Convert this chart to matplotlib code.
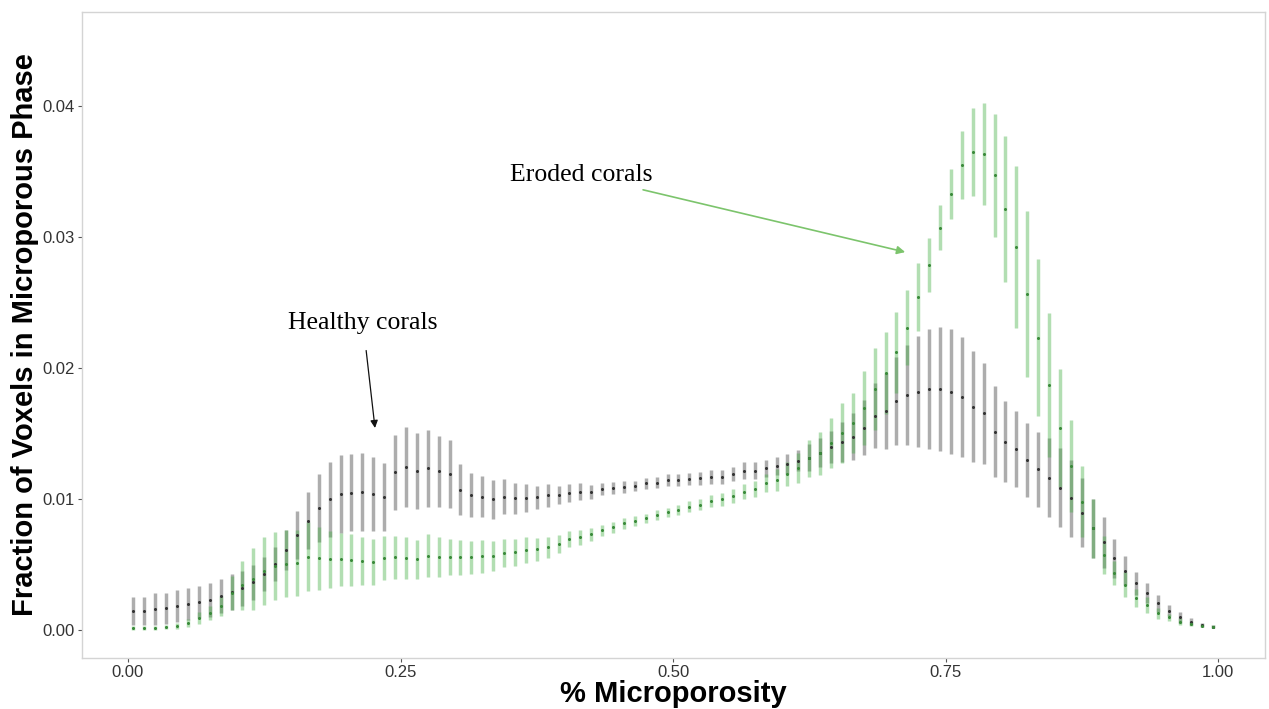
import matplotlib
matplotlib.use("Agg")
import matplotlib.pyplot as plt
import numpy as np

# x bin centres (fraction microporosity)
bins = [round(0.005 + 0.01 * i, 3) for i in range(100)]

# Healthy corals: mean and error (fraction of voxels)
healthy_mean = [
    0.00145, 0.00145, 0.00160, 0.00166, 0.00183, 0.00196, 0.00211, 0.00226, 0.00260, 0.00290,
    0.00318, 0.00364, 0.00425, 0.00501, 0.00611, 0.00725, 0.00834, 0.00931, 0.00997, 0.01038,
    0.01048, 0.01053, 0.01038, 0.01018, 0.01204, 0.01242, 0.01214, 0.01234, 0.01210, 0.01190,
    0.01069, 0.01031, 0.01018, 0.00997, 0.01018, 0.01005, 0.01005, 0.01013, 0.01028, 0.01031,
    0.01043, 0.01056, 0.01051, 0.01074, 0.01081, 0.01094, 0.01102, 0.01120, 0.01125, 0.01145,
    0.01145, 0.01153, 0.01158, 0.01170, 0.01170, 0.01191, 0.01216, 0.01216, 0.01234, 0.01252,
    0.01267, 0.01293, 0.01316, 0.01354, 0.01399, 0.01438, 0.01476, 0.01544, 0.01636, 0.01672,
    0.01748, 0.01794, 0.01819, 0.01840, 0.01840, 0.01819, 0.01776, 0.01705, 0.01654, 0.01514,
    0.01438, 0.01379, 0.01298, 0.01226, 0.01163, 0.01087, 0.01005, 0.00896, 0.00776, 0.00669,
    0.00547, 0.00453, 0.00356, 0.00280, 0.00204, 0.00148, 0.00097, 0.00064, 0.00038, 0.00025,
]
healthy_err = [
    0.00110, 0.00110, 0.00125, 0.00120, 0.00125, 0.00122, 0.00123, 0.00130, 0.00130, 0.00135,
    0.00132, 0.00135, 0.00130, 0.00130, 0.00150, 0.00180, 0.00218, 0.00260, 0.00287, 0.00295,
    0.00296, 0.00296, 0.00280, 0.00260, 0.00287, 0.00304, 0.00289, 0.00293, 0.00272, 0.00260,
    0.00195, 0.00170, 0.00158, 0.00147, 0.00136, 0.00118, 0.00107, 0.00089, 0.00090, 0.00070,
    0.00068, 0.00064, 0.00054, 0.00045, 0.00045, 0.00045, 0.00038, 0.00041, 0.00043, 0.00045,
    0.00046, 0.00049, 0.00051, 0.00053, 0.00053, 0.00055, 0.00064, 0.00064, 0.00064, 0.00070,
    0.00077, 0.00083, 0.00105, 0.00108, 0.00121, 0.00153, 0.00178, 0.00210, 0.00248, 0.00290,
    0.00333, 0.00382, 0.00424, 0.00456, 0.00472, 0.00477, 0.00458, 0.00422, 0.00385, 0.00347,
    0.00310, 0.00290, 0.00280, 0.00286, 0.00299, 0.00302, 0.00293, 0.00265, 0.00225, 0.00195,
    0.00150, 0.00112, 0.00090, 0.00076, 0.00064, 0.00045, 0.00042, 0.00029, 0.00019, 0.00010,
]

# Eroded corals: mean and error
eroded_mean = [
    0.00015, 0.00015, 0.00015, 0.00020, 0.00030, 0.00055, 0.00090, 0.00130, 0.00185, 0.00280,
    0.00340, 0.00390, 0.00450, 0.00490, 0.00505, 0.00510, 0.00560, 0.00547, 0.00539, 0.00539,
    0.00534, 0.00527, 0.00519, 0.00552, 0.00555, 0.00547, 0.00539, 0.00567, 0.00557, 0.00555,
    0.00555, 0.00555, 0.00562, 0.00565, 0.00585, 0.00593, 0.00611, 0.00616, 0.00631, 0.00656,
    0.00692, 0.00707, 0.00730, 0.00763, 0.00784, 0.00814, 0.00835, 0.00852, 0.00875, 0.00898,
    0.00916, 0.00941, 0.00957, 0.00985, 0.00997, 0.01023, 0.01056, 0.01074, 0.01120, 0.01145,
    0.01191, 0.01234, 0.01310, 0.01349, 0.01425, 0.01506, 0.01578, 0.01692, 0.01840, 0.01959,
    0.02120, 0.02308, 0.02544, 0.02786, 0.03071, 0.03331, 0.03550, 0.03647, 0.03634, 0.03473,
    0.03214, 0.02926, 0.02565, 0.02230, 0.01870, 0.01540, 0.01250, 0.00980, 0.00776, 0.00573,
    0.00433, 0.00344, 0.00242, 0.00191, 0.00127, 0.00097, 0.00064, 0.00046, 0.00033, 0.00025,
]
eroded_err = [
    0.00015, 0.00015, 0.00015, 0.00015, 0.00020, 0.00030, 0.00045, 0.00055, 0.00075, 0.00130,
    0.00190, 0.00235, 0.00260, 0.00260, 0.00255, 0.00250, 0.00265, 0.00242, 0.00216, 0.00204,
    0.00199, 0.00184, 0.00178, 0.00167, 0.00165, 0.00159, 0.00149, 0.00163, 0.00150, 0.00139,
    0.00134, 0.00128, 0.00125, 0.00111, 0.00107, 0.00102, 0.00097, 0.00086, 0.00080, 0.00070,
    0.00060, 0.00060, 0.00047, 0.00042, 0.00042, 0.00042, 0.00038, 0.00036, 0.00038, 0.00035,
    0.00038, 0.00041, 0.00040, 0.00048, 0.00048, 0.00051, 0.00055, 0.00060, 0.00070, 0.00085,
    0.00093, 0.00115, 0.00140, 0.00165, 0.00191, 0.00229, 0.00230, 0.00283, 0.00310, 0.00313,
    0.00310, 0.00286, 0.00258, 0.00208, 0.00173, 0.00191, 0.00263, 0.00337, 0.00392, 0.00470,
    0.00560, 0.00620, 0.00630, 0.00600, 0.00550, 0.00450, 0.00350, 0.00270, 0.00225, 0.00145,
    0.00090, 0.00095, 0.00070, 0.00060, 0.00040, 0.00027, 0.00025, 0.00015, 0.00010, 0.00010,
]

x_ticks = [0.00, 0.25, 0.50, 0.75, 1.00]
x_ticklabels = ["0.00", "0.25", "0.50", "0.75", "1.00"]
y_ticks = [0.00, 0.01, 0.02, 0.03, 0.04]
y_ticklabels = ["0.00", "0.01", "0.02", "0.03", "0.04"]

plt.rcParams["font.family"] = ["Liberation Sans", "DejaVu Sans"]

fig = plt.figure(figsize=(12.69, 7.09), dpi=100)
ax = fig.add_axes([82 / 1269, 1 - 658 / 709, (1265 - 82) / 1269, (658 - 12) / 709])

ax.errorbar(bins, healthy_mean, yerr=healthy_err, fmt="none",
            ecolor=(0, 0, 0, 0.32), elinewidth=2.5, capsize=0, zorder=2)
ax.plot(bins, healthy_mean, "o", ms=1.2, color="#333333", zorder=4)

ax.errorbar(bins, eroded_mean, yerr=eroded_err, fmt="none",
            ecolor=(0.25, 0.68, 0.25, 0.40), elinewidth=2.5, capsize=0, zorder=3)
ax.plot(bins, eroded_mean, "o", ms=1.2, color="#3a8a3a", zorder=4)

ax.set_xlim(-0.0422, 1.0431)
ax.set_ylim(-0.00214, 0.04718)
ax.set_xticks(x_ticks)
ax.set_xticklabels(x_ticklabels)
ax.set_yticks(y_ticks)
ax.set_yticklabels(y_ticklabels)
ax.tick_params(axis="both", colors="#555555", labelsize=12, length=3, width=0.8,
               labelcolor="#333333", pad=2)
for s in ax.spines.values():
    s.set_color("#d4d4d4")
    s.set_linewidth(1.0)

ax.set_xlabel("% Microporosity", fontsize=21, fontweight="bold", labelpad=0)
ax.set_ylabel("Fraction of Voxels in Microporous Phase", fontsize=21,
              fontweight="bold", labelpad=3)

ax.annotate("Eroded corals", xy=(0.713, 0.02885), xytext=(0.4156, 0.03473),
            ha="center", va="center", fontsize=18.5, family="Liberation Serif",
            arrowprops=dict(arrowstyle="-|>", color="#7cc46c", lw=1.2,
                            mutation_scale=12, shrinkA=3, shrinkB=0))
ax.annotate("Healthy corals", xy=(0.2266, 0.01542), xytext=(0.2156, 0.02344),
            ha="center", va="center", fontsize=18.5, family="Liberation Serif",
            arrowprops=dict(arrowstyle="-|>", color="#111111", lw=0.9,
                            mutation_scale=11, shrinkA=10, shrinkB=0))

fig.savefig("out.png", dpi=100, facecolor="white")
